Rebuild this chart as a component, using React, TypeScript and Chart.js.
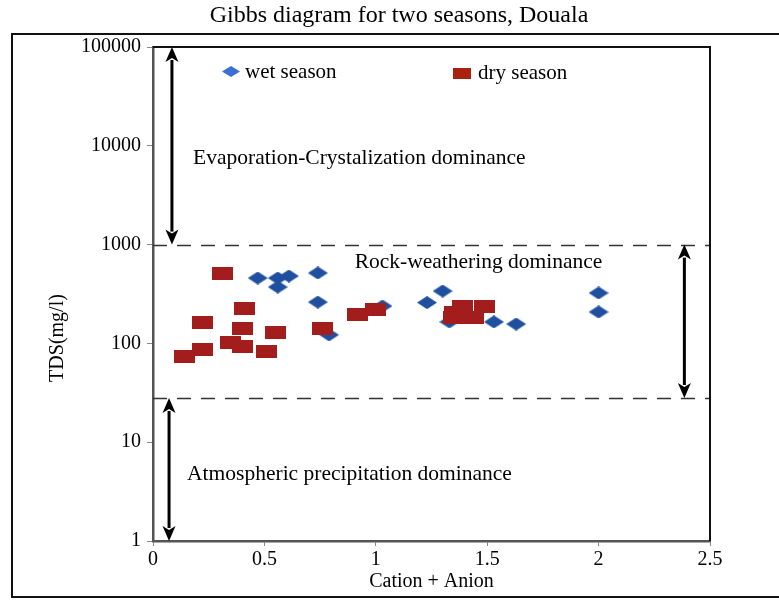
import { useEffect, useRef } from "react";
import { Chart, registerables } from "chart.js";

Chart.register(...registerables);

const TITLE = "Gibbs diagram for two seasons, Douala";
const X_TITLE = "Cation + Anion";
const Y_TITLE = "TDS(mg/l)";
const X_TICKS = [0, 0.5, 1, 1.5, 2, 2.5];
const Y_TICKS = [1, 10, 100, 1000, 10000, 100000];

// Wet season samples
const WET_X = [0.47, 0.56, 0.61, 0.56, 0.74, 0.74, 0.79, 1.03, 1.23, 1.3, 1.33, 1.53, 1.63, 2.0, 2.0];
const WET_Y = [459, 459, 481, 372, 516, 262, 122, 239, 259, 339, 165, 165, 157, 324, 208];

// Dry season samples
const DRY_X = [0.31, 0.41, 0.22, 0.4, 0.55, 0.76, 0.35, 0.4, 0.22, 0.14, 0.51, 0.92, 1.0, 1.355, 1.39, 1.49, 1.35, 1.44];
const DRY_Y = [504, 228, 161, 140, 130, 140, 101, 92, 86, 73, 82, 194, 218, 207, 234, 234, 181, 181];

// Zone boundaries and annotations
const ZONE_LIMITS = [1000, 28];
const ZONE_LABELS = [
  "Evaporation-Crystalization dominance",
  "Rock-weathering dominance",
  "Atmospheric precipitation dominance",
];
const ZONE_LABEL_X = [0.18, 0.905, 0.153];
const ZONE_LABEL_Y = [7500, 660, 4.7];
const ARROW_X = [0.085, 0.072, 2.385];
const ARROW_FROM = [100000, 28, 1000];
const ARROW_TO = [1000, 1, 28];

const FONT = "'Liberation Serif', 'Times New Roman', serif";
const WET_COLOR = "#1f4f9f";
const DRY_COLOR = "#a41d1d";

function makeDiamond(w: number, h: number, color: string) {
  const c = document.createElement("canvas");
  c.width = w;
  c.height = h;
  const g = c.getContext("2d")!;
  g.fillStyle = color;
  g.beginPath();
  g.moveTo(0, h / 2);
  g.lineTo(w / 2, 0);
  g.lineTo(w, h / 2);
  g.lineTo(w / 2, h);
  g.closePath();
  g.fill();
  return c;
}

function makeRect(w: number, h: number, color: string) {
  const c = document.createElement("canvas");
  c.width = w;
  c.height = h;
  const g = c.getContext("2d")!;
  g.fillStyle = color;
  g.fillRect(0, 0, w, h);
  return c;
}

function drawArrow(ctx: CanvasRenderingContext2D, x: number, y1: number, y2: number) {
  const head = 15;
  const half = 6.5;
  ctx.strokeStyle = "#000";
  ctx.fillStyle = "#000";
  ctx.lineWidth = 3;
  ctx.beginPath();
  ctx.moveTo(x, y1 + head - 2);
  ctx.lineTo(x, y2 - head + 2);
  ctx.stroke();
  ctx.beginPath();
  ctx.moveTo(x, y1);
  ctx.lineTo(x - half, y1 + head);
  ctx.lineTo(x, y1 + head - 4);
  ctx.lineTo(x + half, y1 + head);
  ctx.closePath();
  ctx.fill();
  ctx.beginPath();
  ctx.moveTo(x, y2);
  ctx.lineTo(x - half, y2 - head);
  ctx.lineTo(x, y2 - head + 4);
  ctx.lineTo(x + half, y2 - head);
  ctx.closePath();
  ctx.fill();
}

const overlay = {
  id: "gibbsOverlay",
  beforeDatasetsDraw(chart: any) {
    const { ctx, chartArea: a, scales } = chart;
    const xs = scales.x;
    const ys = scales.y;
    ctx.save();
    ctx.setLineDash([14, 10]);
    ctx.strokeStyle = "#333";
    ctx.lineWidth = 1.5;
    for (const v of ZONE_LIMITS) {
      const py = Math.round(ys.getPixelForValue(v)) + 0.5;
      ctx.beginPath();
      ctx.moveTo(a.left, py);
      ctx.lineTo(a.right, py);
      ctx.stroke();
    }
    ctx.setLineDash([]);
    for (let i = 0; i < ARROW_X.length; i++) {
      drawArrow(
        ctx,
        xs.getPixelForValue(ARROW_X[i]),
        ys.getPixelForValue(ARROW_FROM[i]),
        ys.getPixelForValue(ARROW_TO[i])
      );
    }
    ctx.fillStyle = "#000";
    ctx.font = `21.5px ${FONT}`;
    ctx.textAlign = "left";
    ctx.textBaseline = "middle";
    for (let i = 0; i < ZONE_LABELS.length; i++) {
      ctx.fillText(ZONE_LABELS[i], xs.getPixelForValue(ZONE_LABEL_X[i]), ys.getPixelForValue(ZONE_LABEL_Y[i]));
    }
    ctx.restore();
  },
  afterDraw(chart: any) {
    const { ctx, chartArea: a, width } = chart;
    ctx.save();
    // plot frame (top and right)
    ctx.strokeStyle = "#111";
    ctx.lineWidth = 2;
    ctx.beginPath();
    ctx.moveTo(a.left, a.top);
    ctx.lineTo(a.right, a.top);
    ctx.lineTo(a.right, a.bottom);
    ctx.stroke();
    // outer frame
    ctx.beginPath();
    ctx.moveTo(width, 34);
    ctx.lineTo(12, 34);
    ctx.lineTo(12, 597);
    ctx.lineTo(width, 597);
    ctx.stroke();
    // title
    ctx.fillStyle = "#000";
    ctx.textAlign = "center";
    ctx.textBaseline = "middle";
    ctx.font = `24px ${FONT}`;
    ctx.fillText(TITLE, 399, 16);
    // y axis title
    ctx.save();
    ctx.translate(58, 338);
    ctx.rotate(-Math.PI / 2);
    ctx.font = `20px ${FONT}`;
    ctx.fillText(Y_TITLE, 0, 0);
    ctx.restore();
    // legend
    ctx.drawImage(makeDiamond(18, 11, "#3b6fd6"), a.left + 69, a.top + 19);
    ctx.drawImage(makeRect(18, 11, "#a8220f"), a.left + 300, a.top + 21);
    ctx.font = `21px ${FONT}`;
    ctx.textAlign = "left";
    ctx.fillStyle = "#000";
    ctx.fillText("wet season", a.left + 92, a.top + 25);
    ctx.fillText("dry season", a.left + 325, a.top + 26);
    ctx.restore();
  },
};

export default function App() {
  const ref = useRef<HTMLCanvasElement | null>(null);

  useEffect(() => {
    const canvas = ref.current;
    if (!canvas) return;
    const wetMarker = makeDiamond(20, 13, WET_COLOR);
    const dryMarker = makeRect(21, 13, DRY_COLOR);
    const chart = new Chart(canvas, {
      type: "scatter",
      data: {
        datasets: [
          {
            label: "dry season",
            data: DRY_X.map((x, i) => ({ x, y: DRY_Y[i] })),
            pointStyle: dryMarker as any,
            backgroundColor: DRY_COLOR,
            order: 0,
          },
          {
            label: "wet season",
            data: WET_X.map((x, i) => ({ x, y: WET_Y[i] })),
            pointStyle: wetMarker as any,
            backgroundColor: WET_COLOR,
            order: 1,
          },
        ],
      },
      options: {
        responsive: false,
        animation: false,
        layout: { padding: { top: 47, right: 69, left: 0, bottom: 0 } },
        plugins: {
          legend: { display: false },
          tooltip: { enabled: false },
          title: { display: false },
        },
        scales: {
          x: {
            type: "linear",
            min: 0,
            max: 2.5,
            afterBuildTicks: (s: any) => {
              s.ticks = X_TICKS.map((v) => ({ value: v }));
            },
            afterFit: (s: any) => {
              s.height = 59;
            },
            ticks: {
              color: "#000",
              font: { family: FONT, size: 20 },
              padding: 2,
              maxRotation: 0,
              callback: (v: any) => String(v),
            },
            grid: { drawOnChartArea: false, drawTicks: true, tickLength: 5, color: "#888" },
            border: { display: true, color: "#555", width: 2.5 },
            title: {
              display: true,
              text: X_TITLE,
              color: "#000",
              font: { family: FONT, size: 20 },
              padding: { top: 0, bottom: 6 },
            },
          },
          y: {
            type: "logarithmic",
            min: 1,
            max: 100000,
            afterBuildTicks: (s: any) => {
              s.ticks = Y_TICKS.map((v) => ({ value: v }));
            },
            afterFit: (s: any) => {
              s.width = 153;
            },
            ticks: {
              color: "#000",
              font: { family: FONT, size: 20 },
              padding: 6,
              callback: (v: any) => String(v),
            },
            grid: { drawOnChartArea: false, drawTicks: true, tickLength: 6, color: "#888" },
            border: { display: true, color: "#555", width: 2.5 },
          },
        },
      },
      plugins: [overlay],
    });
    return () => chart.destroy();
  }, []);

  return (
    <div style={{ position: "absolute", left: 0, top: 0, width: 779, height: 600, background: "#fff" }}>
      <canvas ref={ref} width={779} height={600} style={{ display: "block" }} />
    </div>
  );
}
